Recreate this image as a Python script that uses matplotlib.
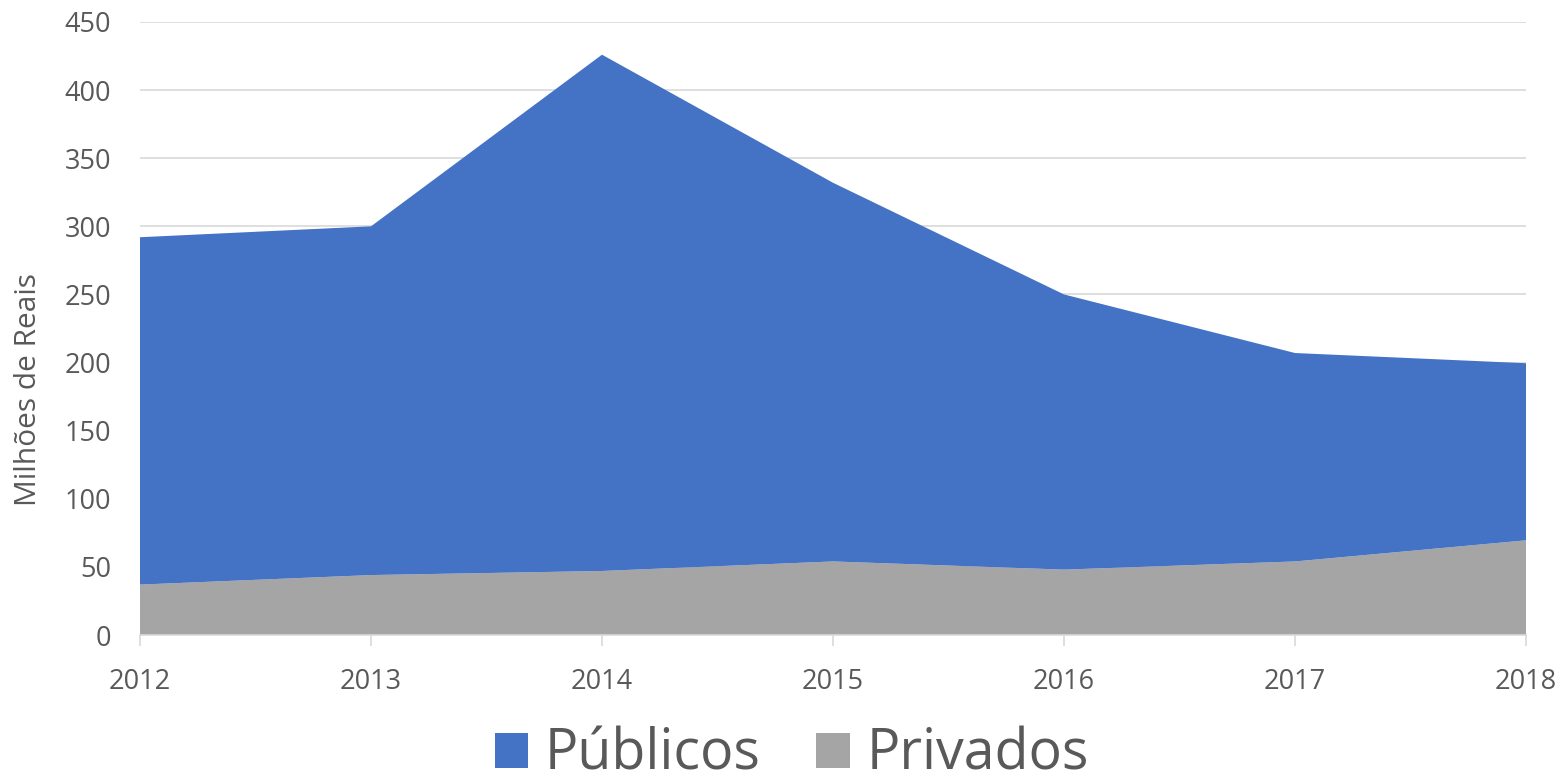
import matplotlib.pyplot as plt
from matplotlib.patches import Patch

years = [2012, 2013, 2014, 2015, 2016, 2017, 2018]
privados = [37, 44, 47, 54, 48, 54, 69.5]
publicos = [255, 256, 379, 278, 202, 153, 130]

blue = '#4472C4'
gray = '#A5A5A5'
text_color = '#595959'

plt.rcParams['font.family'] = ['Open Sans', 'DejaVu Sans']

fig = plt.figure(figsize=(15.62, 7.82), dpi=100)
ax = fig.add_axes([140 / 1562, 1 - 635 / 782, (1526 - 140) / 1562, (635 - 22) / 782])

ax.stackplot(years, privados, publicos, colors=[gray, blue], linewidth=0)

ax.set_xlim(2012, 2018)
ax.set_ylim(0, 450)
ax.set_yticks(range(0, 451, 50))
ax.set_xticks(years)
ax.grid(axis='y', color='#D9D9D9', linewidth=1.2)
ax.set_axisbelow(True)

for side in ['top', 'right', 'left']:
    ax.spines[side].set_visible(False)
ax.spines['bottom'].set_color('#D9D9D9')
ax.spines['bottom'].set_linewidth(1.2)

ax.tick_params(axis='y', length=0, pad=21, labelsize=19.5, labelcolor=text_color)
ax.tick_params(axis='x', length=8, width=1.2, color='#D9D9D9', pad=16,
               labelsize=19.5, labelcolor=text_color)
ax.set_ylabel('Milhões de Reais', fontsize=21.5, color=text_color)
ax.yaxis.set_label_coords(-0.07, 0.40)

handles = [Patch(facecolor=blue, label='Públicos'), Patch(facecolor=gray, label='Privados')]
fig.legend(handles=handles, loc='center', bbox_to_anchor=(0.507, 0.034), ncol=2,
           frameon=False, fontsize=40, labelcolor=text_color, handlelength=0.6,
           handleheight=0.6, handletextpad=0.3, columnspacing=1.0,
           borderpad=0, borderaxespad=0)

fig.savefig('out.png', dpi=100)
